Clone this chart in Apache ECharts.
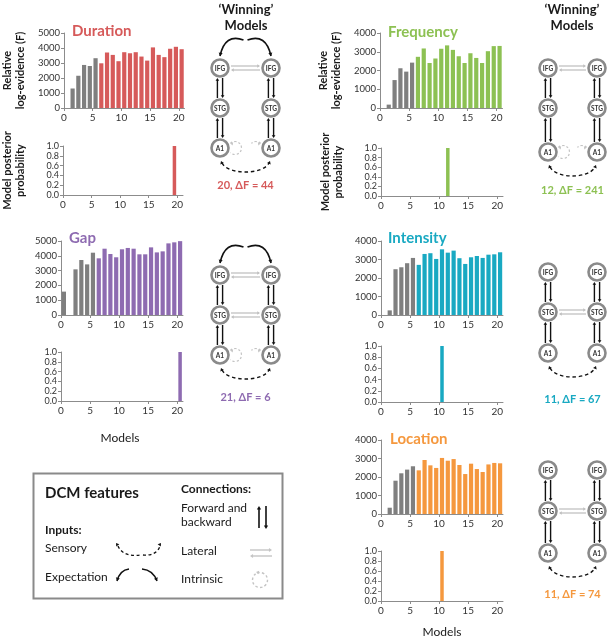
<!DOCTYPE html>
<html><head><meta charset="utf-8">
<script src="https://cdn.jsdelivr.net/npm/echarts@6/dist/echarts.min.js"></script>
<style>html,body{margin:0;padding:0;background:#fff}#c{width:609px;height:639px}</style>
</head><body><div id="c"></div>
<script>
// ---------- data ----------
const models = [1,2,3,4,5,6,7,8,9,10,11,12,13,14,15,16,17,18,19,20,21];
const modelGroup = ['base','base','base','base','base','base','full','full','full','full','full','full','full','full','full','full','full','full','full','full','full'];
const xTickValues = [0,5,10,15,20];
const pTickValues = [0,0.2,0.4,0.6,0.8,1];
const durationF  = [0,1300,2150,2870,2800,3320,2980,3700,3540,3120,3720,3650,3720,3430,3160,4040,3540,3390,3950,4080,3920];
const gapF       = [1580,0,3085,3715,3420,4210,3830,4480,4120,3900,4440,4530,4480,4100,4100,4570,4230,4300,4840,4910,4990];
const frequencyF = [0,180,1490,2120,1940,2420,2730,3175,2400,2640,3160,3340,3100,2760,2400,2920,2670,2400,3030,3300,3310];
const intensityF = [0,250,2475,2580,2800,3085,2710,3300,3340,3030,3550,3370,3480,3070,2760,3120,3190,3085,3260,3280,3390];
const locationF  = [0,340,1800,2200,2400,2580,2360,2920,2630,2490,3030,2880,2970,2650,2160,2720,2430,2270,2680,2760,2740];
const durationP  = [0,0,0,0,0,0,0,0,0,0,0,0,0,0,0,0,0,0,0,1,0];
const gapP       = [0,0,0,0,0,0,0,0,0,0,0,0,0,0,0,0,0,0,0,0,1];
const frequencyP = [0,0,0,0,0,0,0,0,0,0,0,1,0,0,0,0,0,0,0,0,0];
const intensityP = [0,0,0,0,0,0,0,0,0,0,1,0,0,0,0,0,0,0,0,0,0];
const locationP  = [0,0,0,0,0,0,0,0,0,0,1,0,0,0,0,0,0,0,0,0,0];
const featureNames = ['Duration','Gap','Frequency','Intensity','Location'];
const winnerLabels = ['20, \u0394F = 44','21, \u0394F = 6','12, \u0394F = 241','11, \u0394F = 67','11, \u0394F = 74'];
const fTickMax = [5000,5000,4000,4000,4000];
const fAxisTitle = 'Relative\nlog-evidence (F)';
const pAxisTitle = 'Model posterior\nprobability';

// ---------- styling / layout ----------
const FONT = 'Lato, "Open Sans", sans-serif';
const GREY = '#7f7f7f';
const featureColors = ['#d65a5a','#8e6bb1','#8dc153','#19a9c2','#f5983e'];
const Fdata = [durationF,gapF,frequencyF,intensityF,locationF];
const Pdata = [durationP,gapP,frequencyP,intensityP,locationP];
const showTitles = [true,false,true,false,false];
// [left, top, width, height] for F panel and P panel
const layout = [
  {f:[62,33,122.5,75],  p:[61,146,122,49]},
  {f:[61,241,122,74],   p:[61,352,122,49]},
  {f:[380,33,122.5,75], p:[381,148,122,48]},
  {f:[381,241,122,74],  p:[381,346,122,56]},
  {f:[381,440,122,74],  p:[381,551,122,50]}
];

const grids=[], xAxes=[], yAxes=[], series=[];
function addPanel(box, yMax, yInt, vals, color, isP, labelFmt, title){
  const i = grids.length;
  grids.push({left:box[0], top:box[1], width:box[2], height:box[3], containLabel:false});
  xAxes.push({type:'value', gridIndex:i, min:0, max:21,
    axisLine:{show:true, lineStyle:{color:'#8c8c8c', width:1}},
    axisTick:{show:true, length:3, customValues:xTickValues, lineStyle:{color:'#8c8c8c'}},
    axisLabel:{customValues:xTickValues, color:'#333', fontSize:10, fontFamily:FONT, margin:5},
    splitLine:{show:false}});
  const yLabel = {color:'#333', fontSize:isP?9:9.5, fontFamily:FONT, margin:4, formatter:labelFmt,
      showMinLabel:true, showMaxLabel:true};
  const yTick = {show:true, length:3, lineStyle:{color:'#8c8c8c'}};
  if(isP){ yLabel.customValues = pTickValues; yTick.customValues = pTickValues; }
  const ya = {type:'value', gridIndex:i, min:0, max:yMax, interval:yInt,
    axisLine:{show:true, lineStyle:{color:'#8c8c8c', width:1}},
    axisTick:yTick, axisLabel:yLabel, splitLine:{show:false}};
  if(title){ Object.assign(ya,{name:title, nameLocation:'middle', nameRotate:90, nameGap:isP?36:37, nameMoveOverlap:false,
    nameTextStyle:{fontSize:11, fontWeight:'bold', fontFamily:FONT, color:'#1a1a1a', lineHeight:13}}); }
  yAxes.push(ya);
  series.push({type:'bar', xAxisIndex:i, yAxisIndex:i, barWidth:isP?3.5:4.2, silent:true,
    data: models.map((m,j)=>({value:[m-0.5, vals[j]],
      itemStyle:{color: (!isP && modelGroup[j]==='base') ? GREY : color}}))});
}
for(let k=0;k<5;k++){
  addPanel(layout[k].f, fTickMax[k], 1000, Fdata[k], featureColors[k], false, v=>String(v), showTitles[k]?fAxisTitle:null);
  addPanel(layout[k].p, 1, 0.2, Pdata[k], featureColors[k], true, v=>Number(v).toFixed(1), showTitles[k]?pAxisTitle:null);
}

// ---------- graphics ----------
const G = [];
function txt(x,y,s,o){ o=o||{}; G.push({type:'text', x:x, y:y, rotation:o.rot||0, z:20, silent:true,
  style:{text:s, fill:o.color||'#1a1a1a', fontSize:o.size||12, fontWeight:o.bold?'bold':'normal',
    fontFamily:FONT, align:o.align||'left', verticalAlign:'middle'}}); }
function line(x1,y1,x2,y2,c,w,dash){ G.push({type:'line', z:10, silent:true, shape:{x1,y1,x2,y2},
  style:{stroke:c, lineWidth:w, lineDash:dash||null}}); }
function head(x,y,ang,c,s){ s=s||3.4; const a1=ang+Math.PI*0.82, a2=ang-Math.PI*0.82;
  G.push({type:'polygon', z:11, silent:true, shape:{points:[[x,y],[x+s*Math.cos(a1),y+s*Math.sin(a1)],[x+s*Math.cos(a2),y+s*Math.sin(a2)]]}, style:{fill:c}}); }
function quad(x1,y1,cx,cy,x2,y2,c,w,dash){ G.push({type:'bezierCurve', z:10, silent:true,
  shape:{x1,y1,x2,y2,cpx1:cx,cpy1:cy}, style:{stroke:c, lineWidth:w, fill:null, lineDash:dash||null}});
  head(x2,y2,Math.atan2(y2-cy,x2-cx),c,dash?3.2:3.8); }
function cubic(x1,y1,c1x,c1y,c2x,c2y,x2,y2,c,w,dash){ G.push({type:'bezierCurve', z:10, silent:true,
  shape:{x1,y1,x2,y2,cpx1:c1x,cpy1:c1y,cpx2:c2x,cpy2:c2y}, style:{stroke:c, lineWidth:w, fill:null, lineDash:dash||null}}); }
function node(x,y,s){ G.push({type:'circle', z:12, silent:true, shape:{cx:x,cy:y,r:8.5}, style:{fill:'#fff', stroke:'#8a8a8a', lineWidth:2.6}});
  txt(x,y+0.5,s,{size:6.5,bold:true,align:'center',color:'#333'}); }
function fbArrows(x,yt,yb){ const r=10; const B='#111';
  line(x-2.6,yb-r,x-2.6,yt+r+2,B,1.4); head(x-2.6,yt+r,-Math.PI/2,B,3.4);
  line(x+2.6,yt+r,x+2.6,yb-r-2,B,1.4); head(x+2.6,yb-r,Math.PI/2,B,3.4); }
function lateral(xl,xr,y){ const L='#bdbdbd'; const r=11;
  line(xl+r,y-2,xr-r-2,y-2,L,1.2); head(xr-r,y-2,0,L,3.2);
  line(xl+r+2,y+2,xr-r,y+2,L,1.2); head(xl+r,y+2,Math.PI,L,3.2); }
function intrinsic(x,y,dir){ const L='#c4c4c4'; const cx=x+dir*15;
  G.push({type:'arc', z:10, silent:true, shape:{cx:cx, cy:y, r:6.5,
    startAngle: dir>0 ? -Math.PI*0.75 : -Math.PI*0.25, endAngle: dir>0 ? Math.PI*0.75 : Math.PI*1.25, clockwise: dir>0},
    style:{stroke:L, lineWidth:1.2, lineDash:[2.2,2], fill:null}});
  head(cx-dir*4.6, y-4.6, dir>0?Math.PI*1.05:-Math.PI*0.05, L, 3); }
function diagram(xl,xr,yI,yS,yA,opt,color,label,ly){
  const mid=(xl+xr)/2;
  fbArrows(xl,yI,yS); fbArrows(xl,yS,yA); fbArrows(xr,yI,yS); fbArrows(xr,yS,yA);
  if(opt.latI) lateral(xl,xr,yI);
  if(opt.latS) lateral(xl,xr,yS);
  if(opt.intr){ intrinsic(xl,yA,1); intrinsic(xr,yA,-1); }
  if(opt.exp){ quad(mid-2,yI-28,xl+5,yI-35,xl,yI-12,'#111',1.6);
               quad(mid+2,yI-28,xr-5,yI-35,xr,yI-12,'#111',1.6); }
  cubic(xl+2,yA+15,xl+8,yA+27,xr-8,yA+27,xr-2,yA+15,'#111',1.4,[3.5,2.8]);
  head(xl+1,yA+13,-Math.PI*0.62,'#111',3.6); head(xr-1,yA+13,-Math.PI*0.38,'#111',3.6);
  node(xl,yI,'IFG'); node(xr,yI,'IFG'); node(xl,yS,'STG'); node(xr,yS,'STG'); node(xl,yA,'A1'); node(xr,yA,'A1');
  txt(mid,ly,label,{size:11,bold:true,color:color,align:'center'});
}

// titles
txt(72,31,featureNames[0],{size:15,bold:true,color:featureColors[0]});
txt(69,238,featureNames[1],{size:15,bold:true,color:featureColors[1]});
txt(388,32,featureNames[2],{size:15,bold:true,color:featureColors[2]});
txt(388,238,featureNames[3],{size:15,bold:true,color:featureColors[3]});
txt(390,439,featureNames[4],{size:15,bold:true,color:featureColors[4]});
txt(120,438,'Models',{size:12,align:'center'});
txt(442,632,'Models',{size:12,align:'center'});
// headers
txt(246,10,'\u2018Winning\u2019',{size:13,bold:true,align:'center'});
txt(246,26,'Models',{size:13,bold:true,align:'center'});
txt(572,10,'\u2018Winning\u2019',{size:13,bold:true,align:'center'});
txt(572,26,'Models',{size:13,bold:true,align:'center'});

// diagrams
diagram(220,271,68,108,148,{exp:true,latI:true,latS:false,intr:true},featureColors[0],winnerLabels[0],185);
diagram(220,271,275,315,355,{exp:true,latI:true,latS:true,intr:true},featureColors[1],winnerLabels[1],397);
diagram(548,597,68,108,152,{exp:false,latI:true,latS:false,intr:true},featureColors[2],winnerLabels[2],190);
diagram(548,597,272,312,353,{exp:false,latI:false,latS:true,intr:false},featureColors[3],winnerLabels[3],399);
diagram(548,597,470,511,553,{exp:false,latI:false,latS:true,intr:false},featureColors[4],winnerLabels[4],594);

// legend box
G.push({type:'rect', z:5, silent:true, shape:{x:33.5,y:473.5,width:249,height:125}, style:{fill:'#fff', stroke:'#8a8a8a', lineWidth:2}});
txt(45,493,'DCM features',{size:15,bold:true});
txt(45,530,'Inputs:',{size:12,bold:true});
txt(45,548,'Sensory',{size:12});
txt(45,577,'Expectation',{size:12});
txt(181,489,'Connections:',{size:12,bold:true});
txt(181,508,'Forward and',{size:12});
txt(181,522,'backward',{size:12});
txt(181,551,'Lateral',{size:12});
txt(181,579,'Intrinsic',{size:12});
// sensory icon
cubic(118,546,122,556,135,556,140,555,'#111',1.3,[3,2.5]); head(116,543,-Math.PI*0.7,'#111',3.6);
cubic(143,555,150,556,158,553,160,546,'#111',1.3,[3,2.5]); head(161,543,-Math.PI*0.3,'#111',3.6);
// expectation icon
quad(129,569,120,570,117,581,'#111',1.5);
quad(142,569,153,570,157,581,'#111',1.5);
// forward/backward icon
line(259,528,259,509,'#111',1.6); head(259,506,-Math.PI/2,'#111',4);
line(266,506,266,526,'#111',1.6); head(266,529,Math.PI/2,'#111',4);
// lateral icon
line(250,550,269,550,'#c4c4c4',1.4); head(272,550,0,'#c4c4c4',3.6);
line(253,556,272,556,'#c4c4c4',1.4); head(250,556,Math.PI,'#c4c4c4',3.6);
// intrinsic icon
G.push({type:'arc', z:10, silent:true, shape:{cx:260,cy:580,r:7.5,startAngle:-Math.PI*0.62,endAngle:Math.PI*1.3,clockwise:true}, style:{stroke:'#c4c4c4',lineWidth:1.4,lineDash:[2.5,2.2],fill:null}});
head(256,572,Math.PI*1.05,'#c4c4c4',3.4);

const chart = echarts.init(document.getElementById('c'), null, {renderer:'canvas'});
chart.setOption({animation:false, backgroundColor:'#fff', grid:grids, xAxis:xAxes, yAxis:yAxes, series:series, graphic:{elements:G}});
</script></body></html>
